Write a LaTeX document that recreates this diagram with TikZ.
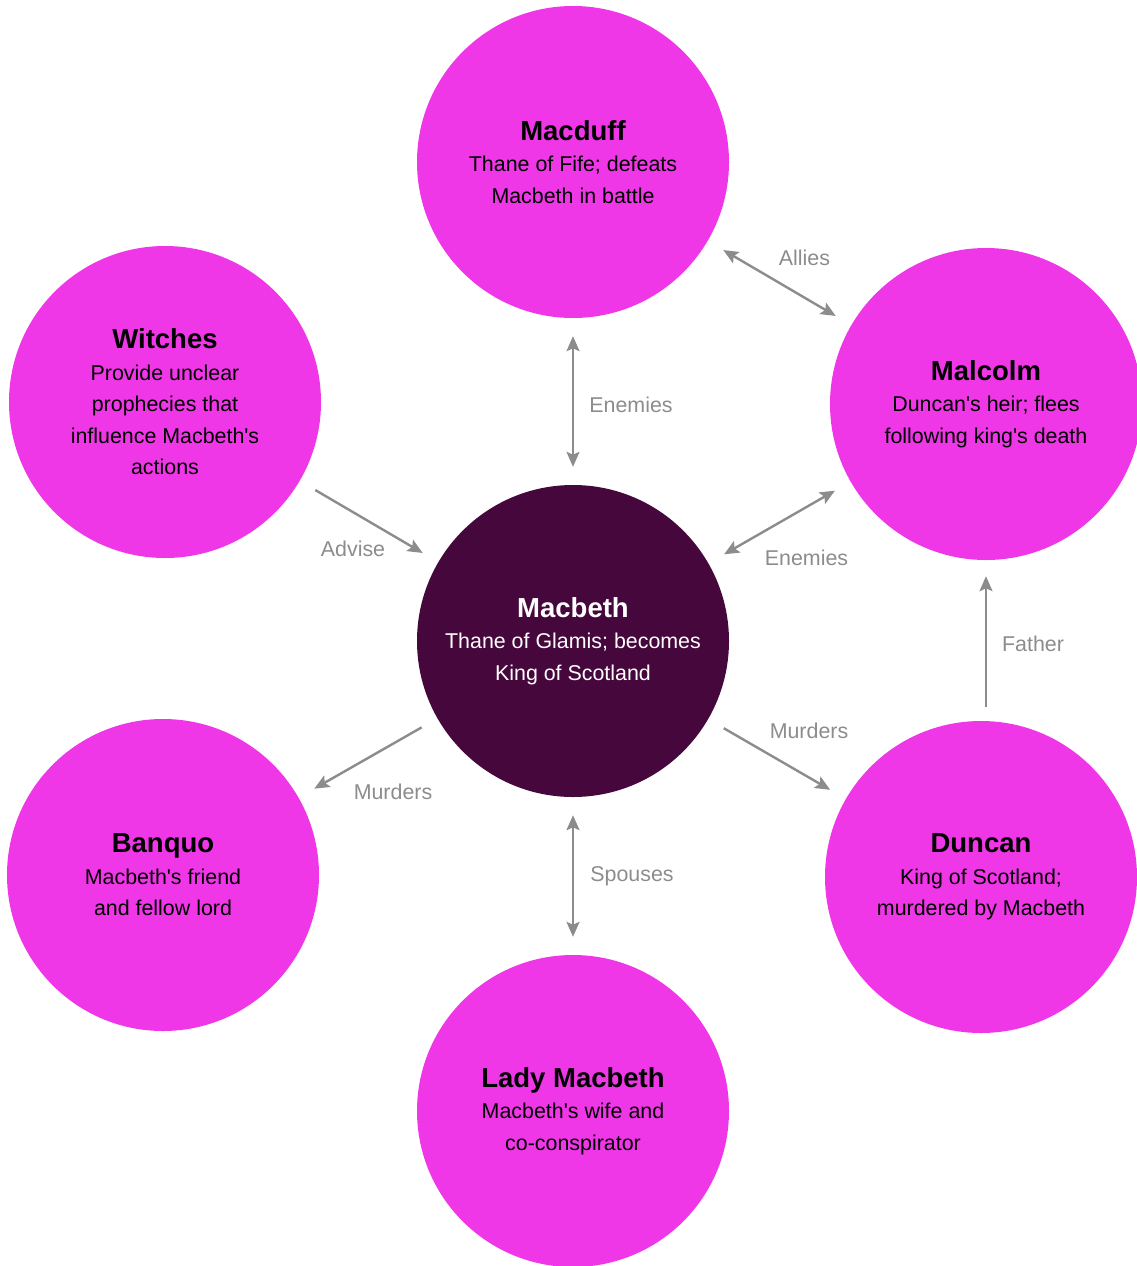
\documentclass[tikz,border=0pt]{standalone}
\usepackage{fontspec}
\setmainfont{Liberation Sans}[Ligatures=TeXOff]
\usetikzlibrary{arrows.meta}
\definecolor{mag}{RGB}{239,55,231}
\definecolor{dark}{RGB}{70,7,60}
\definecolor{arr}{RGB}{140,140,140}
\definecolor{lab}{RGB}{140,140,140}
\tikzset{
  person/.style={circle, fill=mag, minimum size=312pt, inner sep=0pt, align=center, text=black,
    font=\fontsize{21.4}{31.5}\selectfont},
  central/.style={person, fill=dark, text=white},
  rel/.style={draw=arr, line width=2.4pt, shorten >=18pt, shorten <=18pt,
    -{Stealth[length=15pt,width=13pt,inset=3pt]}},
  relboth/.style={rel, {Stealth[length=15pt,width=13pt,inset=3pt]}-{Stealth[length=15pt,width=13pt,inset=3pt]}},
  rlab/.style={text=lab, font=\fontsize{21.4}{25}\selectfont, inner sep=0pt}
}
\newcommand{\ttl}[1]{{\fontsize{27.5}{31.5}\selectfont\bfseries #1}}
\begin{document}
\begin{tikzpicture}[x=1pt,y=-1pt]
\useasboundingbox (0,0) rectangle (1136,1266);
\node[person] (macduff) at (573,162) {\ttl{Macduff}\\Thane of Fife; defeats\\Macbeth in battle};
\node[person] (witches) at (165,402) {\ttl{Witches}\\Provide unclear\\prophecies that\\influence Macbeth's\\actions};
\node[person] (malcolm) at (986,404) {\ttl{Malcolm}\\Duncan's heir; flees\\following king's death};
\node[central] (macbeth) at (573,641) {\ttl{Macbeth}\\Thane of Glamis; becomes\\King of Scotland};
\node[person] (banquo) at (163,875) {\ttl{Banquo}\\Macbeth's friend\\and fellow lord};
\node[person] (duncan) at (981,877) {\ttl{Duncan}\\King of Scotland;\\murdered by Macbeth};
\node[person] (lady) at (573,1111) {\ttl{Lady Macbeth}\\Macbeth's wife and\\co-conspirator};

\draw[relboth] (macduff) -- node[rlab, xshift=58pt, yshift=-3pt] {Enemies} (macbeth);
\draw[relboth] (macduff) -- node[rlab, xshift=25pt, yshift=25pt] {Allies} (malcolm);
\draw[relboth] (macbeth) -- node[rlab, xshift=27pt, yshift=-35pt] {Enemies} (malcolm);
\draw[rel] (witches) -- node[rlab, xshift=-16pt, yshift=-27pt] {Advise} (macbeth);
\draw[rel] (macbeth) -- node[rlab, xshift=25pt, yshift=-34pt] {Murders} (banquo);
\draw[rel] (macbeth) -- node[rlab, xshift=32pt, yshift=28pt] {Murders} (duncan);
\draw[rel, shorten >=16pt, shorten <=14pt] (malcolm.south |- duncan.north) -- node[rlab, xshift=47pt, yshift=-3pt] {Father} (malcolm.south);
\draw[relboth] (macbeth) -- node[rlab, xshift=59pt] {Spouses} (lady);
\end{tikzpicture}
\end{document}
